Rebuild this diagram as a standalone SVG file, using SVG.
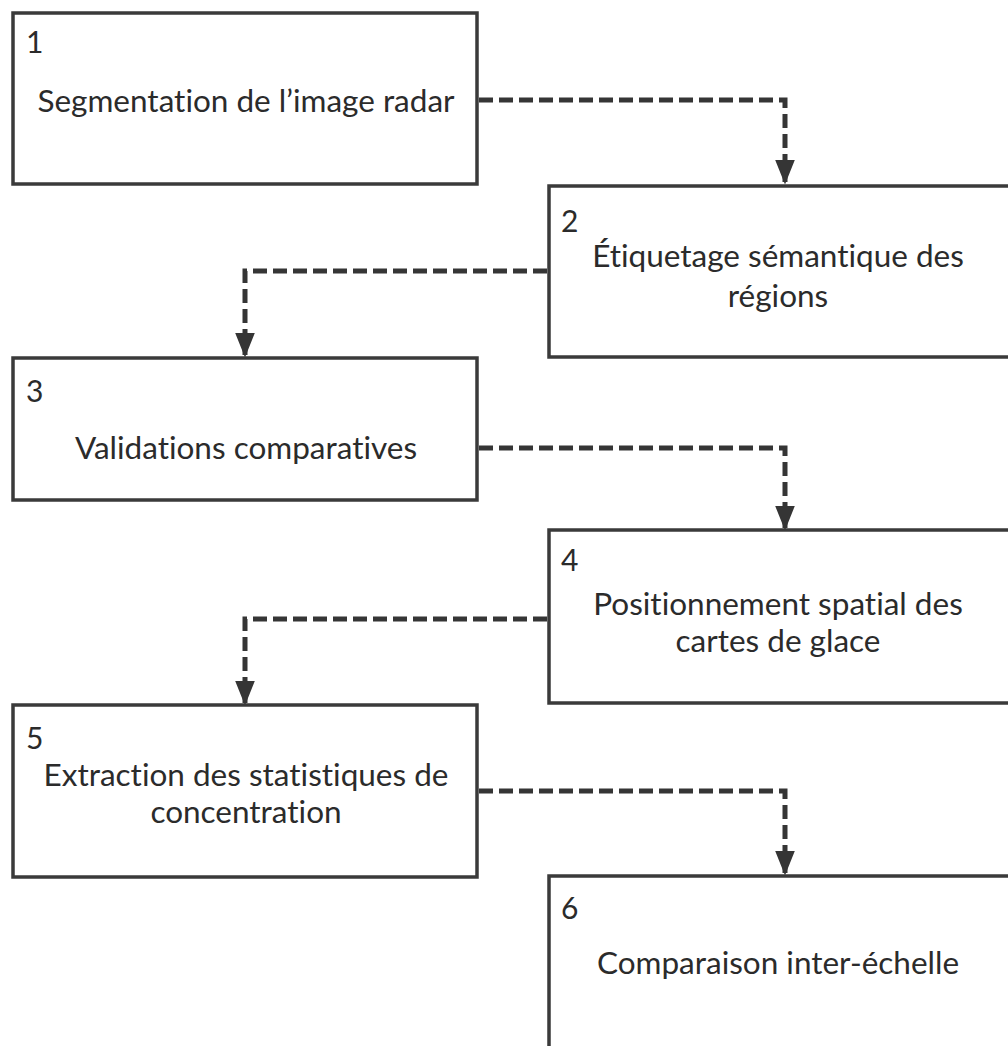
<svg xmlns="http://www.w3.org/2000/svg" width="1008" height="1046" viewBox="0 0 1008 1046">
<style>
.box{fill:#fff;stroke:#3a3a3a;stroke-width:3.5}
.t{font-family:Lato,"Open Sans","Liberation Sans",sans-serif;font-size:31.5px;fill:#2b2b2b;text-anchor:middle;font-variant-ligatures:none}
.n{font-family:Lato,"Open Sans","Liberation Sans",sans-serif;font-size:30px;fill:#2b2b2b}
.c{fill:none;stroke:#353535;stroke-width:5;stroke-dasharray:14 6;marker-end:url(#ah)}
</style>
<defs>
<marker id="ah" markerWidth="5" markerHeight="4" refX="4.5" refY="2" orient="auto" markerUnits="strokeWidth">
<path d="M0,0 L5,2 L0,4 Z" fill="#353535"/>
</marker>
</defs>
<rect width="1008" height="1046" fill="#fff"/>
<g id="connectors">
<path class="c" d="M479,100 H785 V182"/>
<path class="c" d="M547,271 H245 V355"/>
<path class="c" d="M479,448 H785 V528"/>
<path class="c" d="M547,619 H245 V703"/>
<path class="c" d="M479,791 H785 V873"/>
</g>
<g id="node1">
<rect class="box" x="13" y="13" width="464" height="171"/>
<text class="n" x="26" y="53">1</text>
<text class="t" x="246" y="112">Segmentation de l’image radar</text>
</g>
<g id="node2">
<rect class="box" x="549" y="186" width="480" height="171"/>
<text class="n" x="561" y="232">2</text>
<text class="t" x="778" y="267">Étiquetage sémantique des</text>
<text class="t" x="778" y="307">régions</text>
</g>
<g id="node3">
<rect class="box" x="13" y="358" width="464" height="142"/>
<text class="n" x="26" y="402">3</text>
<text class="t" x="246" y="459">Validations comparatives</text>
</g>
<g id="node4">
<rect class="box" x="549" y="530" width="480" height="173"/>
<text class="n" x="561" y="571">4</text>
<text class="t" x="778" y="615">Positionnement spatial des</text>
<text class="t" x="778" y="652">cartes de glace</text>
</g>
<g id="node5">
<rect class="box" x="13" y="705" width="464" height="172"/>
<text class="n" x="26" y="749">5</text>
<text class="t" x="246" y="786">Extraction des statistiques de</text>
<text class="t" x="246" y="823">concentration</text>
</g>
<g id="node6">
<rect class="box" x="549" y="876" width="480" height="190"/>
<text class="n" x="561" y="919">6</text>
<text class="t" x="778" y="974">Comparaison inter-échelle</text>
</g>
</svg>
